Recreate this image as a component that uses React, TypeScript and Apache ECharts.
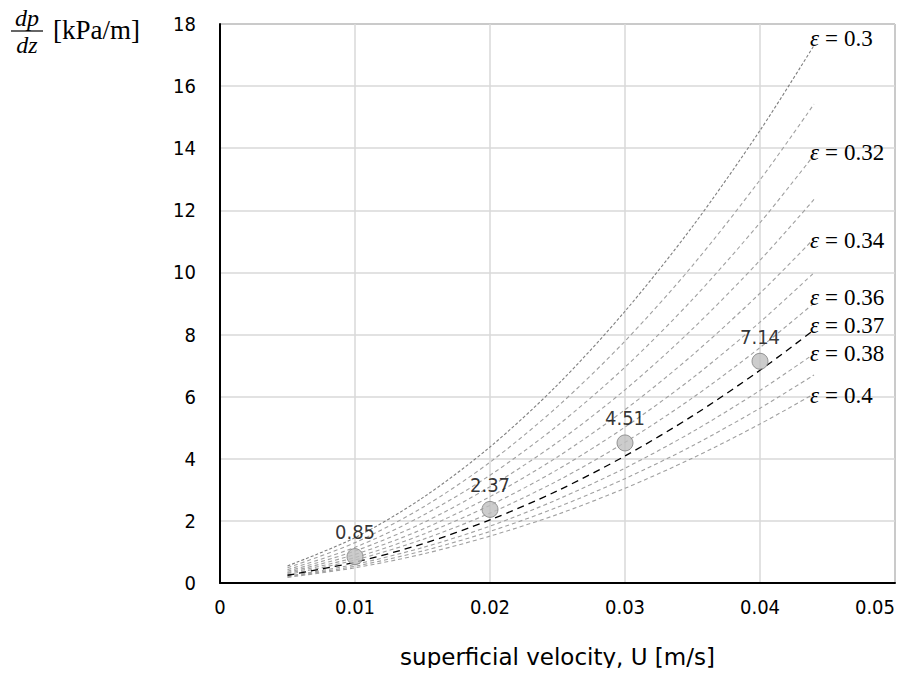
import React, { useEffect, useRef } from "react";
import * as echarts from "echarts";

// superficial velocity U [m/s] sample positions of the curves
const velocity = [0.005, 0.01, 0.015, 0.02, 0.025, 0.03, 0.035, 0.04, 0.044];

// pressure gradient dp/dz [kPa/m] for each porosity curve
const eps030 = [0.55, 1.46, 2.74, 4.38, 6.38, 8.75, 11.48, 14.57, 17.31];
const eps031 = [0.49, 1.3, 2.43, 3.89, 5.68, 7.79, 10.22, 12.98, 15.42];
const eps032 = [0.43, 1.15, 2.17, 3.47, 5.07, 6.95, 9.13, 11.6, 13.78];
const eps033 = [0.38, 1.03, 1.93, 3.1, 4.53, 6.22, 8.18, 10.39, 12.35];
const eps034 = [0.34, 0.92, 1.73, 2.78, 4.06, 5.58, 7.34, 9.33, 11.09];
const eps035 = [0.31, 0.82, 1.56, 2.5, 3.65, 5.02, 6.6, 8.4, 9.99];
const eps036 = [0.27, 0.74, 1.4, 2.25, 3.29, 4.53, 5.96, 7.58, 9.01];
const eps037 = [0.25, 0.67, 1.26, 2.03, 2.97, 4.09, 5.38, 6.85, 8.15];
const eps038 = [0.22, 0.6, 1.14, 1.83, 2.69, 3.7, 4.87, 6.2, 7.38];
const eps039 = [0.2, 0.54, 1.03, 1.66, 2.44, 3.36, 4.42, 5.63, 6.7];
const eps040 = [0.18, 0.49, 0.93, 1.51, 2.21, 3.05, 4.02, 5.12, 6.09];

// measured points
const measuredU = [0.01, 0.02, 0.03, 0.04];
const measuredDp = [0.85, 2.37, 4.51, 7.14];

const curves = [
  { eps: "0.3", data: eps030, label: true, offset: [-4, -7] },
  { eps: "0.31", data: eps031, label: false, offset: [0, 0] },
  { eps: "0.32", data: eps032, label: true, offset: [-4, -3] },
  { eps: "0.33", data: eps033, label: false, offset: [0, 0] },
  { eps: "0.34", data: eps034, label: true, offset: [-4, 2] },
  { eps: "0.35", data: eps035, label: false, offset: [0, 0] },
  { eps: "0.36", data: eps036, label: true, offset: [-4, -6] },
  { eps: "0.37", data: eps037, label: true, offset: [-4, -4] },
  { eps: "0.38", data: eps038, label: true, offset: [-4, 0] },
  { eps: "0.39", data: eps039, label: false, offset: [0, 0] },
  { eps: "0.4", data: eps040, label: true, offset: [-4, 2] },
];

const xTicks = [0, 0.01, 0.02, 0.03, 0.04, 0.05];

const tickFont = "'DejaVu Sans Condensed', 'DejaVu Sans', sans-serif";
const nameFont = "'DejaVu Sans', sans-serif";
const serif = "'Liberation Serif', 'DejaVu Serif', serif";

export default function App() {
  const ref = useRef<HTMLDivElement>(null);
  useEffect(() => {
    if (!ref.current) return;
    const chart = echarts.init(ref.current, null, { renderer: "svg" });
    const lineSeries = curves.map((c) => {
      const isMain = c.eps === "0.37";
      return {
        type: "line",
        name: "eps " + c.eps,
        data: velocity.map((u, i) => [u, c.data[i]]),
        smooth: 0.3,
        showSymbol: false,
        symbol: "none",
        silent: true,
        z: isMain ? 3 : 2,
        lineStyle: {
          color: isMain ? "#000000" : c.eps === "0.3" ? "#7f7f7f" : "#a0a0a0",
          width: isMain ? 1.3 : 1.1,
          type: isMain ? [7, 5] : c.eps === "0.3" ? [3, 2] : [4, 3],
        },
        endLabel: {
          show: c.label,
          distance: 0,
          offset: c.offset,
          formatter: "{e|ε}{q|=}" + c.eps,
          fontFamily: serif,
          fontSize: 23,
          color: "#000",
          rich: {
            e: { fontFamily: serif, fontStyle: "italic", fontSize: 23, color: "#000" },
            q: { fontFamily: serif, fontSize: 23, color: "#000", padding: [0, 6, 0, 6] },
          },
        },
      };
    });
    chart.setOption({
      animation: false,
      backgroundColor: "#ffffff",
      grid: {
        left: 220,
        right: 24,
        top: 24,
        bottom: 93,
        show: true,
        borderColor: "#404040",
        borderWidth: 1,
      },
      xAxis: {
        type: "value",
        min: 0,
        max: 0.05,
        interval: 0.01,
        name: "superficial velocity, U [m/s]",
        nameLocation: "middle",
        nameGap: 62,
        nameTextStyle: { fontFamily: nameFont, fontSize: 23, color: "#000" },
        axisLine: { show: true, lineStyle: { color: "#000", width: 2 } },
        axisTick: { show: false },
        axisLabel: {
          fontFamily: tickFont,
          fontSize: 20,
          color: "#000",
          margin: 14,
          alignMaxLabel: "right",
          formatter: (v: number) => {
            const t = xTicks.find((x) => Math.abs(x - v) < 1e-9);
            return t === undefined ? "" : t === 0 ? "0" : t.toFixed(2);
          },
        },
        splitLine: { show: true, lineStyle: { color: "#d9d9d9", width: 1.5 } },
      },
      yAxis: {
        type: "value",
        min: 0,
        max: 18,
        interval: 2,
        axisLine: { show: true, lineStyle: { color: "#000", width: 2 } },
        axisTick: { show: false },
        axisLabel: { fontFamily: tickFont, fontSize: 20, color: "#000", margin: 24 },
        splitLine: { show: true, lineStyle: { color: "#d9d9d9", width: 1.5 } },
      },
      graphic: [
        {
          type: "text",
          x: 27,
          y: 18,
          style: {
            text: "dp",
            fontFamily: serif,
            fontStyle: "italic",
            fontSize: 24,
            fill: "#000",
            align: "center",
            verticalAlign: "middle",
          },
        },
        {
          type: "line",
          shape: { x1: 11, y1: 31, x2: 43, y2: 31 },
          style: { stroke: "#000", lineWidth: 1.2 },
        },
        {
          type: "text",
          x: 27,
          y: 45,
          style: {
            text: "dz",
            fontFamily: serif,
            fontStyle: "italic",
            fontSize: 24,
            fill: "#000",
            align: "center",
            verticalAlign: "middle",
          },
        },
        {
          type: "text",
          x: 53,
          y: 30,
          style: {
            text: "[kPa/m]",
            fontFamily: serif,
            fontSize: 27,
            fill: "#000",
            align: "left",
            verticalAlign: "middle",
          },
        },
      ],
      series: [
        ...lineSeries,
        {
          type: "scatter",
          name: "measured",
          data: measuredU.map((u, i) => [u, measuredDp[i]]),
          symbol: "circle",
          symbolSize: 16,
          z: 5,
          itemStyle: { color: "#bfbfbf", borderColor: "#7f7f7f", borderWidth: 1 },
          label: {
            show: true,
            position: "top",
            distance: 6,
            formatter: (p: any) => p.value[1].toFixed(2),
            fontFamily: tickFont,
            fontSize: 20,
            color: "#000",
          },
        },
      ],
    });
    return () => chart.dispose();
  }, []);
  return <div ref={ref} style={{ width: 919, height: 676, margin: -8 }} />;
}
